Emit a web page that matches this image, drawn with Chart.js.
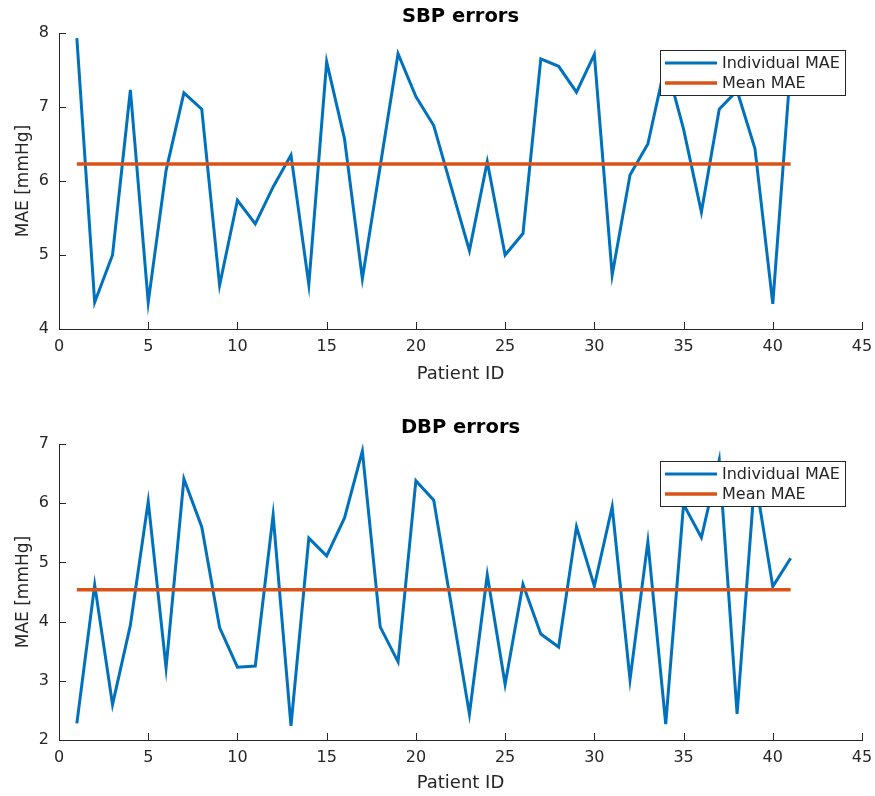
<!DOCTYPE html>
<html>
<head>
<meta charset="utf-8">
<script src="https://cdn.jsdelivr.net/npm/chart.js@4.4.0/dist/chart.umd.min.js"></script>
<style>
  html, body { margin: 0; padding: 0; background: #fff; }
  #wrap { position: relative; width: 875px; height: 796px; }
  .panel { position: absolute; left: 0; width: 875px; height: 385px; }
  #p1 { top: 0; }
  #p2 { top: 411px; }
</style>
</head>
<body>
<div id="wrap">
  <div class="panel" id="p1"><canvas id="sbpChart"></canvas></div>
  <div class="panel" id="p2"><canvas id="dbpChart"></canvas></div>
</div>
<script>
// ── DATA ──────────────────────────────────────────────────────
const patientIds = [1, 2, 3, 4, 5, 6, 7, 8, 9, 10, 11, 12, 13, 14, 15, 16, 17, 18, 19, 20,
                    21, 22, 23, 24, 25, 26, 27, 28, 29, 30, 31, 32, 33, 34, 35, 36, 37, 38, 39, 40, 41];

const sbpMae = [7.93, 4.36, 5.00, 7.23, 4.36, 6.14, 7.19, 6.97, 4.59, 5.74,
                5.42, 5.92, 6.35, 4.60, 7.61, 6.57, 4.68, 6.20, 7.72, 7.14,
                6.75, 5.90, 5.06, 6.26, 5.00, 5.29, 7.65, 7.55, 7.20, 7.71,
                4.73, 6.08, 6.50, 7.60, 6.70, 5.58, 6.97, 7.22, 6.44, 4.34, 7.55];
const sbpMeanMae = 6.23;

const dbpMae = [2.28, 4.62, 2.60, 3.94, 6.03, 3.22, 6.41, 5.60, 3.90, 3.23,
                3.25, 5.80, 2.24, 5.41, 5.11, 5.75, 6.88, 3.91, 3.32, 6.38,
                6.05, 4.25, 2.44, 4.79, 2.94, 4.63, 3.79, 3.57, 5.60, 4.60,
                5.94, 3.02, 5.35, 2.27, 5.98, 5.42, 6.73, 2.44, 6.45, 4.59, 5.07];
const dbpMeanMae = 4.54;

const xTickStep = 5;
const xRange = [0, 45];
const sbpRange = [4, 8];
const dbpRange = [2, 7];

const seriesLabels = ["Individual MAE", "Mean MAE"];

// ── STYLE ─────────────────────────────────────────────────────
const FONT = "DejaVu Sans";
const AXIS_COLOR = "#262626";
const BLUE = "#0072BD";
const ORANGE = "#D95319";

// MATLAB style inward ticks
const inwardTicks = {
  id: "inwardTicks",
  afterDatasetsDraw(chart) {
    const { ctx, chartArea: a, scales } = chart;
    const len = 7;
    ctx.save();
    ctx.strokeStyle = AXIS_COLOR;
    ctx.lineWidth = 1;
    ctx.beginPath();
    scales.x.ticks.forEach(t => {
      const px = Math.round(scales.x.getPixelForValue(t.value)) + 0.5;
      ctx.moveTo(px, a.bottom);
      ctx.lineTo(px, a.bottom - len);
    });
    scales.y.ticks.forEach(t => {
      const py = Math.round(scales.y.getPixelForValue(t.value)) + 0.5;
      ctx.moveTo(a.left, py);
      ctx.lineTo(a.left + len, py);
    });
    ctx.stroke();
    ctx.restore();
  },
};

// legend box in the top right corner of the axes
const boxLegend = {
  id: "boxLegend",
  afterDraw(chart) {
    const { ctx, chartArea: a } = chart;
    const w = 185, h = 45, off = 17;
    const x0 = a.right - off - w, y0 = a.top + off;
    ctx.save();
    ctx.fillStyle = "#fff";
    ctx.fillRect(x0, y0, w, h);
    ctx.strokeStyle = AXIS_COLOR;
    ctx.lineWidth = 1;
    ctx.strokeRect(x0 + 0.5, y0 + 0.5, w, h);
    ctx.font = `16px "${FONT}"`;
    ctx.textBaseline = "middle";
    chart.data.datasets.forEach((ds, i) => {
      const y = y0 + 13 + i * 20;
      ctx.strokeStyle = ds.borderColor;
      ctx.lineWidth = ds.borderWidth;
      ctx.beginPath();
      ctx.moveTo(x0 + 5, y);
      ctx.lineTo(x0 + 57, y);
      ctx.stroke();
      ctx.fillStyle = AXIS_COLOR;
      ctx.fillText(ds.label, x0 + 62, y + 1);
    });
    ctx.restore();
  },
};

function makePanel(canvasId, title, values, meanVal, yRange, xTitlePad) {
  const ctx = document.getElementById(canvasId).getContext("2d");
  return new Chart(ctx, {
    type: "line",
    data: {
      datasets: [
        {
          label: seriesLabels[0],
          data: patientIds.map((id, i) => ({ x: id, y: values[i] })),
          borderColor: BLUE,
          borderWidth: 3,
          pointRadius: 0,
          tension: 0,
          fill: false,
          order: 1,
        },
        {
          label: seriesLabels[1],
          data: [
            { x: patientIds[0], y: meanVal },
            { x: patientIds[patientIds.length - 1], y: meanVal },
          ],
          borderColor: ORANGE,
          borderWidth: 3.5,
          pointRadius: 0,
          fill: false,
          order: 0,
        },
      ],
    },
    options: {
      responsive: true,
      maintainAspectRatio: false,
      animation: false,
      devicePixelRatio: 1,
      layout: { padding: { left: 0, right: 13, top: 0, bottom: 0 } },
      plugins: {
        legend: { display: false },
        tooltip: { enabled: false },
        title: {
          display: true,
          text: title,
          fullSize: false,
          color: "#000",
          font: { family: FONT, size: 19.5, weight: "bold", lineHeight: 1 },
          padding: { top: 7, bottom: 6.5 },
        },
      },
      scales: {
        x: {
          type: "linear",
          min: xRange[0],
          max: xRange[1],
          grid: { display: false, drawTicks: false },
          border: { display: true, color: AXIS_COLOR, width: 1 },
          ticks: { stepSize: xTickStep, color: AXIS_COLOR, padding: 8, maxRotation: 0,
                   font: { family: FONT, size: 16 } },
          title: { display: true, text: "Patient ID", color: AXIS_COLOR,
                   font: { family: FONT, size: 18, lineHeight: 1.2 }, padding: { top: 0, bottom: xTitlePad } },
          afterFit: (s) => { s.height = 56; s.paddingLeft = 0; s.paddingRight = 0; },
        },
        y: {
          min: yRange[0],
          max: yRange[1],
          grid: { display: false, drawTicks: false },
          border: { display: true, color: AXIS_COLOR, width: 1 },
          ticks: { stepSize: 1, color: AXIS_COLOR, padding: 10,
                   font: { family: FONT, size: 16 } },
          title: { display: true, text: "MAE [mmHg]", color: AXIS_COLOR,
                   font: { family: FONT, size: 17 }, padding: { top: 13, bottom: 0 } },
          afterFit: (s) => { s.width = 59; },
        },
      },
    },
    plugins: [inwardTicks, boxLegend],
  });
}

makePanel("sbpChart", "SBP errors", sbpMae, sbpMeanMae, sbpRange, 0);
makePanel("dbpChart", "DBP errors", dbpMae, dbpMeanMae, dbpRange, 2);
</script>
</body>
</html>
